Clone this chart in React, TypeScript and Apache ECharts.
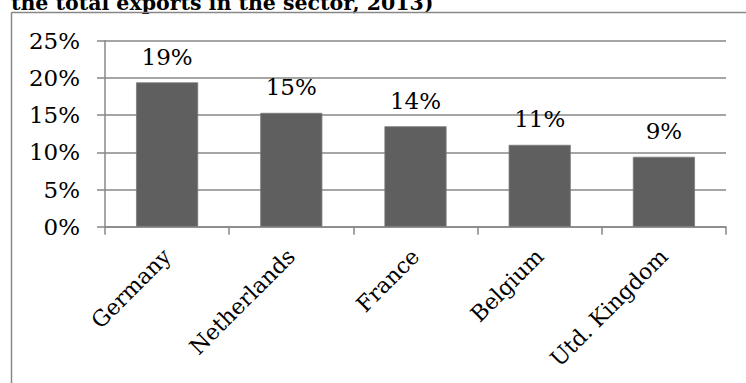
import React, { useEffect, useRef } from "react";
import * as echarts from "echarts";

const categories = ["Germany", "Netherlands", "France", "Belgium", "Utd. Kingdom"];
const shares = [19.4, 15.3, 13.5, 11.0, 9.4];
const yTicks = { min: 0, max: 25, interval: 5 };
const titleText = "the total exports in the sector, 2013)";

const FONT = "DejaVu Serif";
const GRAY = "#878787";

export default function App() {
  const ref = useRef<HTMLDivElement>(null);
  useEffect(() => {
    if (!ref.current) return;
    const chart = echarts.init(ref.current, null, { renderer: "svg" });
    chart.setOption({
      animation: false,
      backgroundColor: "#ffffff",
      graphic: [
        {
          type: "text",
          left: 11,
          top: -8,
          style: {
            text: titleText,
            font: `bold 20.5px "${FONT}"`,
            fill: "#000",
          },
        },
        {
          type: "line",
          shape: { x1: 11.5, y1: 12.5, x2: 746, y2: 12.5 },
          style: { stroke: GRAY, lineWidth: 1.5 },
        },
        {
          type: "line",
          shape: { x1: 11.5, y1: 12.5, x2: 11.5, y2: 383 },
          style: { stroke: GRAY, lineWidth: 1.5 },
        },
      ],
      grid: { left: 105, top: 40.7, width: 621, height: 186, containLabel: false },
      xAxis: {
        type: "category",
        data: categories,
        axisLine: { show: true, lineStyle: { color: GRAY, width: 1.5 } },
        axisTick: { show: true, length: 8, lineStyle: { color: GRAY, width: 1.5 } },
        axisLabel: {
          rotate: 45,
          margin: 26,
          color: "#000",
          fontFamily: FONT,
          fontSize: 22,
          interval: 0,
        },
      },
      yAxis: {
        type: "value",
        min: yTicks.min,
        max: yTicks.max,
        interval: yTicks.interval,
        axisLine: { show: true, lineStyle: { color: GRAY, width: 1.5 } },
        axisTick: { show: true, length: 8, lineStyle: { color: GRAY, width: 1.5 } },
        splitLine: { show: true, lineStyle: { color: GRAY, width: 1.5 } },
        axisLabel: {
          formatter: "{value}%",
          margin: 25,
          color: "#000",
          fontFamily: FONT,
          fontSize: 23,
        },
      },
      series: [
        {
          type: "bar",
          data: shares,
          barWidth: "50%",
          itemStyle: { color: "#5f5f5f", borderColor: "#7a7a7a", borderWidth: 0.8 },
          label: {
            show: true,
            position: "top",
            distance: 14,
            color: "#000",
            fontFamily: FONT,
            fontSize: 23,
            formatter: (p: any) => `${Math.round(p.value)}%`,
          },
        },
      ],
    });
    return () => chart.dispose();
  }, []);
  return (
    <div
      ref={ref}
      style={{ position: "fixed", left: 0, top: 0, width: 746, height: 383 }}
    />
  );
}
